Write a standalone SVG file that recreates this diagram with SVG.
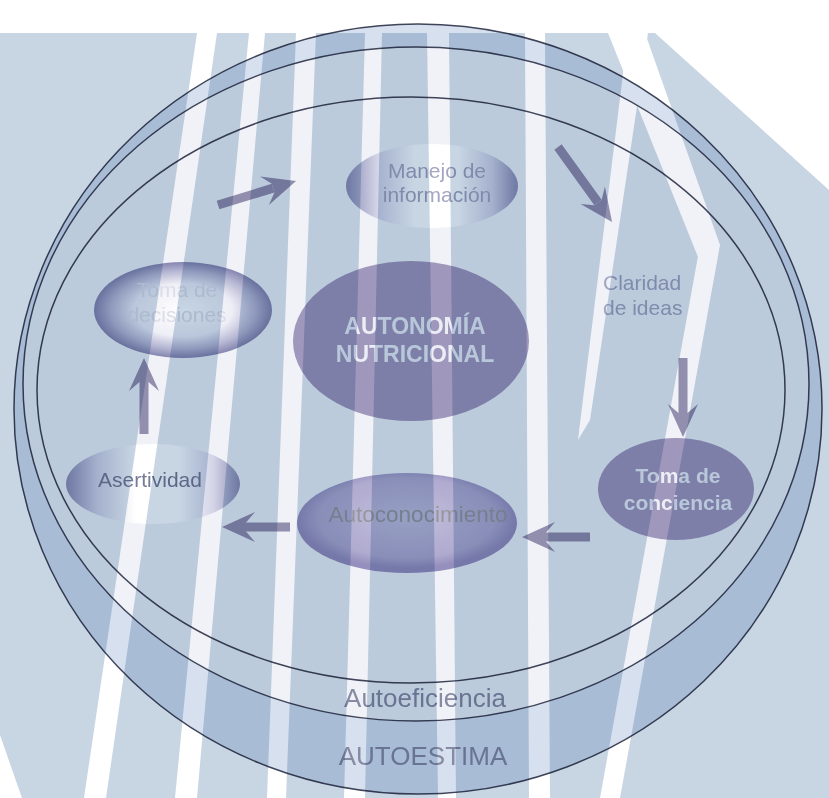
<svg xmlns="http://www.w3.org/2000/svg" width="829" height="798" viewBox="0 0 829 798">
  <style>
    .rim { fill: none; stroke: #3f4459; stroke-width: 1.5; }
    .lbl { font-family: "Liberation Sans", Arial, sans-serif; text-anchor: middle; }
    .soft { fill: #a3a6c1; font-size: 21px; }
    .pale { fill: #dcdde8; font-size: 21px; }
    .ring-lbl { fill: #868aa3; font-size: 26px; }
    .bold { font-weight: bold; fill: #eceef5; }
    .wm { fill: #ffffff; }
    .conn { stroke: #928eae; stroke-width: 9; fill: none; marker-end: url(#head); }
  </style>
  <defs>
    <marker id="head" viewBox="-12 -17 38 34" markerWidth="38" markerHeight="34" refX="0" refY="0" markerUnits="userSpaceOnUse" orient="auto">
      <path d="M0,-4.5 L-9,-15 L24,0 L-9,15 L0,4.5 Z" fill="#928eae"/>
    </marker>
    <linearGradient id="lens" x1="0" y1="0" x2="1" y2="0">
      <stop offset="0" stop-color="#8c8eb6"/>
      <stop offset="0.18" stop-color="#d2d3e6"/>
      <stop offset="0.4" stop-color="#ffffff"/>
      <stop offset="0.65" stop-color="#ffffff"/>
      <stop offset="0.85" stop-color="#d2d3e6"/>
      <stop offset="1" stop-color="#8c8eb6"/>
    </linearGradient>
    <radialGradient id="orb" cx="0.5" cy="0.5" r="0.5">
      <stop offset="0" stop-color="#ffffff"/>
      <stop offset="0.55" stop-color="#eeeef6"/>
      <stop offset="0.82" stop-color="#b4b5d2"/>
      <stop offset="1" stop-color="#8586b0"/>
    </radialGradient>
    <radialGradient id="mid" cx="0.5" cy="0.45" r="0.5">
      <stop offset="0" stop-color="#c2bedb"/>
      <stop offset="0.8" stop-color="#afaacf"/>
      <stop offset="1" stop-color="#958fbd"/>
    </radialGradient>
  </defs>

  <!-- striped backdrop -->
  <g id="backdrop">
    <rect width="829" height="798" fill="#ffffff"/>
    <rect y="33" width="829" height="765" fill="#c8d6e4"/>
    <polygon class="wm" points="197,33 217,33 106,798 84,798"/>
    <polygon class="wm" points="249,33 265,33 197,798 175,798"/>
    <polygon class="wm" points="296,33 316,33 286,798 267,798"/>
    <polygon class="wm" points="365,33 382,33 365,798 344,798"/>
    <polygon class="wm" points="427,33 449,33 456,798 438,798"/>
    <polygon class="wm" points="525,33 545,33 550,798 529,798"/>
    <polygon class="wm" points="628,33 648,33 590,420 578,440"/>
    <polygon class="wm" points="608,33 645,33 720,245 700,262"/>
    <polygon class="wm" points="700,245 720,245 620,798 600,798"/>
    <polygon class="wm" points="655,33 829,33 829,190"/>
    <polygon class="wm" points="0,735 0,798 22,798"/>
  </g>

  <g id="diagram" style="mix-blend-mode:multiply">
    <!-- rings -->
    <g id="rings">
      <path fill="#d6e0ef" fill-rule="evenodd" d="M14,409 a404,385 0 1,0 808,0 a404,385 0 1,0 -808,0 Z M23,384 a393,337 0 1,0 786,0 a393,337 0 1,0 -786,0 Z"/>
      <ellipse cx="416" cy="384" rx="393" ry="337" fill="#f0f2f7"/>
      <ellipse class="rim" cx="418" cy="409" rx="404" ry="385"/>
      <ellipse class="rim" cx="416" cy="384" rx="393" ry="337"/>
      <ellipse class="rim" cx="411" cy="390" rx="374" ry="293"/>
      <text class="lbl ring-lbl" x="425" y="707">Autoeficiencia</text>
      <text class="lbl ring-lbl" x="423" y="765">AUTOESTIMA</text>
    </g>

    <g id="n-manejo">
      <ellipse cx="432" cy="186" rx="86" ry="42" fill="url(#lens)"/>
      <text class="lbl soft" x="437" y="178">Manejo de</text>
      <text class="lbl soft" x="437" y="202">información</text>
    </g>

    <g id="n-claridad">
      <text class="lbl soft" x="603" y="290" style="text-anchor:start">Claridad</text>
      <text class="lbl soft" x="603" y="315" style="text-anchor:start">de ideas</text>
    </g>

    <g id="n-decisiones">
      <ellipse cx="183" cy="310" rx="89" ry="48" fill="url(#orb)"/>
      <text class="lbl pale" x="177" y="297">Toma de</text>
      <text class="lbl pale" x="177" y="322">decisiones</text>
    </g>

    <g id="n-autonomia">
      <ellipse cx="411" cy="341" rx="118" ry="80" fill="#9f97bc"/>
      <text class="lbl bold" x="415" y="334" font-size="23">AUTONOMÍA</text>
      <text class="lbl bold" x="415" y="362" font-size="23">NUTRICIONAL</text>
    </g>

    <g id="n-conciencia">
      <ellipse cx="676" cy="489" rx="78" ry="51" fill="#9f97bc"/>
      <text class="lbl bold" x="678" y="483" font-size="21">Toma de</text>
      <text class="lbl bold" x="678" y="510" font-size="21">conciencia</text>
    </g>

    <g id="n-autoconocimiento">
      <ellipse cx="407" cy="523" rx="110" ry="50" fill="url(#mid)"/>
      <text class="lbl" x="418" y="522" font-size="22.5" fill="#95979f">Autoconocimiento</text>
    </g>

    <g id="n-asertividad">
      <ellipse cx="153" cy="484" rx="87" ry="40" fill="url(#lens)"/>
      <text class="lbl" x="150" y="487" font-size="21" fill="#767b97">Asertividad</text>
    </g>

    <!-- connectors -->
    <g id="connectors">
      <line class="conn" x1="218" y1="205" x2="273.1" y2="188.1"/>
      <line class="conn" x1="558" y1="147" x2="598" y2="202.5"/>
      <line class="conn" x1="683" y1="358" x2="683" y2="413"/>
      <line class="conn" x1="590" y1="537" x2="546" y2="537"/>
      <line class="conn" x1="290" y1="527" x2="246" y2="527"/>
      <line class="conn" x1="144" y1="434" x2="144" y2="382"/>
    </g>
  </g>
</svg>
